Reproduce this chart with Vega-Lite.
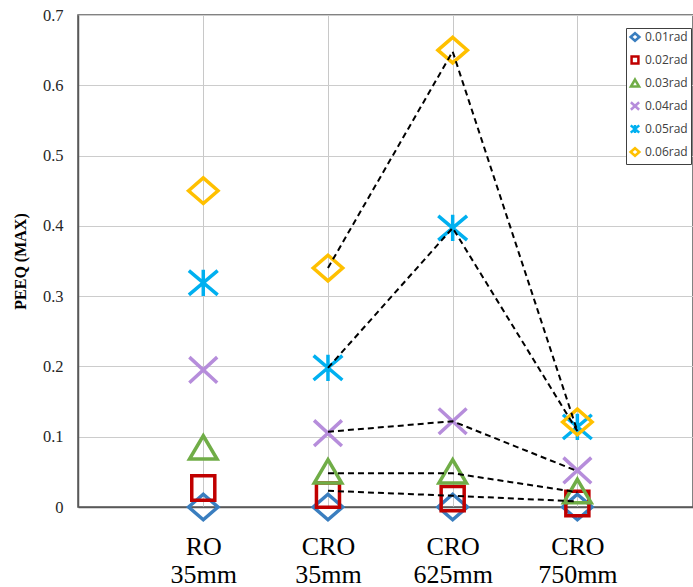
{
  "$schema": "https://vega.github.io/schema/vega-lite/v6.json",
  "width": 615,
  "height": 492,
  "autosize": {"type": "none"},
  "padding": {"left": 78, "top": 15, "right": 0, "bottom": 80},
  "background": "white",
  "config": {
    "view": {"stroke": "#595959", "strokeWidth": 1.5}
  },
  "datasets": {
    "points": [
      {"cat": "RO\n35mm", "series": "0.01rad", "peeq": 0},
      {"cat": "RO\n35mm", "series": "0.02rad", "peeq": 0.027},
      {"cat": "RO\n35mm", "series": "0.03rad", "peeq": 0.085},
      {"cat": "RO\n35mm", "series": "0.04rad", "peeq": 0.195},
      {"cat": "RO\n35mm", "series": "0.05rad", "peeq": 0.319},
      {"cat": "RO\n35mm", "series": "0.06rad", "peeq": 0.45},
      {"cat": "CRO\n35mm", "series": "0.01rad", "peeq": 0},
      {"cat": "CRO\n35mm", "series": "0.02rad", "peeq": 0.017},
      {"cat": "CRO\n35mm", "series": "0.03rad", "peeq": 0.051},
      {"cat": "CRO\n35mm", "series": "0.04rad", "peeq": 0.105},
      {"cat": "CRO\n35mm", "series": "0.05rad", "peeq": 0.198},
      {"cat": "CRO\n35mm", "series": "0.06rad", "peeq": 0.34},
      {"cat": "CRO\n625mm", "series": "0.01rad", "peeq": 0},
      {"cat": "CRO\n625mm", "series": "0.02rad", "peeq": 0.012},
      {"cat": "CRO\n625mm", "series": "0.03rad", "peeq": 0.051},
      {"cat": "CRO\n625mm", "series": "0.04rad", "peeq": 0.122},
      {"cat": "CRO\n625mm", "series": "0.05rad", "peeq": 0.397},
      {"cat": "CRO\n625mm", "series": "0.06rad", "peeq": 0.65},
      {"cat": "CRO\n750mm", "series": "0.01rad", "peeq": 0},
      {"cat": "CRO\n750mm", "series": "0.02rad", "peeq": 0.005},
      {"cat": "CRO\n750mm", "series": "0.03rad", "peeq": 0.023},
      {"cat": "CRO\n750mm", "series": "0.04rad", "peeq": 0.052},
      {"cat": "CRO\n750mm", "series": "0.05rad", "peeq": 0.114},
      {"cat": "CRO\n750mm", "series": "0.06rad", "peeq": 0.121}
    ],
    "lines": [
      {"cat": "CRO\n35mm", "series": "0.02rad", "peeq": 0.023},
      {"cat": "CRO\n625mm", "series": "0.02rad", "peeq": 0.016},
      {"cat": "CRO\n750mm", "series": "0.02rad", "peeq": 0.008},
      {"cat": "CRO\n35mm", "series": "0.03rad", "peeq": 0.048},
      {"cat": "CRO\n625mm", "series": "0.03rad", "peeq": 0.048},
      {"cat": "CRO\n750mm", "series": "0.03rad", "peeq": 0.021},
      {"cat": "CRO\n35mm", "series": "0.04rad", "peeq": 0.107},
      {"cat": "CRO\n625mm", "series": "0.04rad", "peeq": 0.122},
      {"cat": "CRO\n750mm", "series": "0.04rad", "peeq": 0.051},
      {"cat": "CRO\n35mm", "series": "0.05rad", "peeq": 0.198},
      {"cat": "CRO\n625mm", "series": "0.05rad", "peeq": 0.397},
      {"cat": "CRO\n750mm", "series": "0.05rad", "peeq": 0.108},
      {"cat": "CRO\n35mm", "series": "0.06rad", "peeq": 0.34},
      {"cat": "CRO\n625mm", "series": "0.06rad", "peeq": 0.648},
      {"cat": "CRO\n750mm", "series": "0.06rad", "peeq": 0.108}
    ]
  },
  "encoding": {
    "x": {
      "field": "cat",
      "type": "ordinal",
      "scale": {
        "type": "point",
        "domain": ["RO\n35mm", "CRO\n35mm", "CRO\n625mm", "CRO\n750mm"],
        "padding": 0.966,
        "align": 0.52
      },
      "axis": {
        "title": null,
        "labelExpr": "split(datum.label, '\\n')",
        "labelFont": "Liberation Serif",
        "labelFontSize": 26,
        "labelColor": "#000000",
        "labelLineHeight": 28,
        "labelPadding": 26,
        "labelAngle": 0,
        "ticks": false,
        "domainColor": "#595959",
        "domainWidth": 1.5,
        "grid": true,
        "gridColor": "#c8c8c8",
        "gridWidth": 1
      }
    },
    "y": {
      "field": "peeq",
      "type": "quantitative",
      "scale": {"domain": [0, 0.7], "nice": false},
      "axis": {
        "title": "PEEQ (MAX)",
        "titleFont": "Liberation Serif",
        "titleFontSize": 16,
        "titleFontWeight": "bold",
        "titleColor": "#000000",
        "titlePadding": 14,
        "values": [0, 0.1, 0.2, 0.3, 0.4, 0.5, 0.6, 0.7],
        "format": ".1~f",
        "labelFont": "Liberation Serif",
        "labelFontSize": 16.5,
        "labelColor": "#262626",
        "labelPadding": 15,
        "ticks": false,
        "domainColor": "#595959",
        "domainWidth": 1.5,
        "grid": true,
        "gridColor": "#cccccc",
        "gridWidth": 1
      }
    }
  },
  "layer": [
    {
      "data": {"name": "points"},
      "mark": {"type": "point", "filled": false, "strokeWidth": 3.5, "size": 1024, "opacity": 1},
      "encoding": {
        "color": {
          "field": "series",
          "type": "nominal",
          "scale": {
            "domain": ["0.01rad", "0.02rad", "0.03rad", "0.04rad", "0.05rad", "0.06rad"],
            "range": ["#3a7ebf", "#c00000", "#70ad47", "#b68ddb", "#00b0f0", "#ffc000"]
          },
          "legend": {
            "title": null,
            "orient": "none",
            "legendX": 548,
            "legendY": 13,
            "labelFont": "Open Sans",
            "labelFontSize": 12,
            "labelColor": "#404040",
            "labelOffset": 4,
            "symbolSize": 90,
            "symbolStrokeWidth": 2.5,
            "rowPadding": 5,
            "padding": 3,
            "strokeColor": "#404040",
            "fillColor": "#ffffff"
          }
        },
        "shape": {
          "field": "series",
          "type": "nominal",
          "scale": {
            "domain": ["0.01rad", "0.02rad", "0.03rad", "0.04rad", "0.05rad", "0.06rad"],
            "range": [
              "M-0.92,0L0,-0.8L0.92,0L0,0.8Z",
              "M-0.72,-0.76L0.72,-0.76L0.72,0.76L-0.72,0.76Z",
              "M0,-0.72L0.86,0.74L-0.86,0.74Z",
              "M-0.87,-0.8L0.87,0.8M-0.87,0.8L0.87,-0.8",
              "M-0.9,-0.76L0.9,0.76M-0.9,0.76L0.9,-0.76M0,-0.82L0,0.82",
              "M-0.92,0L0,-0.8L0.92,0L0,0.8Z"
            ]
          }
        }
      }
    },
    {
      "data": {"name": "lines"},
      "mark": {"type": "line", "color": "#000000", "strokeDash": [6, 4], "strokeWidth": 2},
      "encoding": {"detail": {"field": "series", "type": "nominal"}}
    }
  ]
}
